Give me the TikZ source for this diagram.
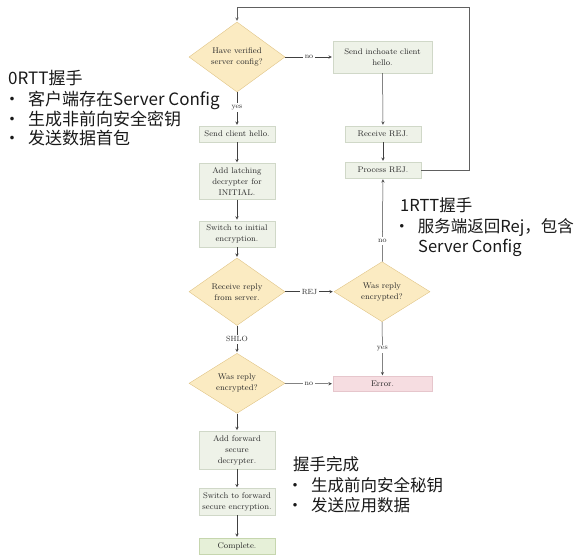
\documentclass[tikz,border=0pt]{standalone}
\usepackage{fontspec}
\newfontfamily\cjk{Noto Sans CJK SC}
\usetikzlibrary{shapes.geometric}

\definecolor{askfill}{HTML}{FBEBC2}
\definecolor{askline}{HTML}{E0C486}
\definecolor{boxfill}{HTML}{EEF2E8}
\definecolor{boxline}{HTML}{D0D8C8}
\definecolor{donefill}{HTML}{E6F0D8}
\definecolor{doneline}{HTML}{C6D6AE}
\definecolor{errfill}{HTML}{F6DDE1}
\definecolor{errline}{HTML}{E6C6CC}
\definecolor{ink}{HTML}{2B2B2B}

\newcommand{\bul}{\makebox[6pt][c]{\textbullet}\hspace{13pt}}

\tikzset{
    stepbox/.style={draw=boxline, fill=boxfill, minimum width=76pt, minimum height=16pt,
        inner xsep=2pt, inner ysep=4pt, align=center, text=ink,
        font=\fontsize{8.2}{11}\selectfont},
    ask/.style={diamond, draw=askline, fill=askfill, minimum width=96pt, minimum height=49pt,
        inner sep=0pt, align=center, text=ink, font=\fontsize{8.2}{11}\selectfont},
    flow/.style={->, >=stealth, draw=ink!90, line width=0.5pt, shorten >=1pt},
    tag/.style={fill=white, inner sep=2pt, text=ink, font=\fontsize{7.5}{9}\selectfont},
    note/.style={anchor=base west, inner sep=0pt, text=black!90, font=\cjk\fontsize{16.5}{20}\selectfont}
}

\begin{document}
\begin{tikzpicture}[x=1pt, y=-1pt]
    \useasboundingbox (0,0) rectangle (588,558);

    % Left column
    \node[ask] (have) at (237,57) {Have verified\\server config?};
    \node[stepbox] (sendhello) at (237,134) {Send client hello.};
    \node[stepbox] (latch) at (237,181.5) {Add latching\\decrypter for\\INITIAL.};
    \node[stepbox] (switchinit) at (237,234) {Switch to initial\\encryption.};
    \node[ask] (recv) at (237,291.7) {Receive reply\\from server.};
    \node[ask] (wasshlo) at (237,383.3) {Was reply\\encrypted?};
    \node[stepbox] (addfwd) at (237,450) {Add forward\\secure\\decrypter.};
    \node[stepbox] (switchfwd) at (237,501.7) {Switch to forward\\secure encryption.};
    \node[stepbox, draw=doneline, fill=donefill] (complete) at (237,546) {Complete.};

    % Right column
    \node[stepbox, minimum width=99pt, minimum height=32pt] (inchoate) at (382.5,57) {Send inchoate client\\hello.};
    \node[stepbox] (recrej) at (383,134) {Receive REJ.};
    \node[stepbox] (procrej) at (383,170) {Process REJ.};
    \node[ask] (wasrej) at (382,291.7) {Was reply\\encrypted?};
    \node[stepbox, minimum width=99pt, minimum height=15pt, draw=errline, fill=errfill] (error) at (382.5,384) {Error.};
    \coordinate (loop) at (469,7);

    % Connectors
    \draw[flow] (have) -- node[tag] {no} (inchoate);
    \draw[flow] (have) -- node[tag, pos=0.45] {yes} (sendhello);
    \draw[flow] (inchoate) -- (recrej);
    \draw[flow] (recrej) -- (procrej);
    \draw[flow, draw=ink!75] (procrej.east) -| (loop) -| (have.north);
    \draw[flow] (sendhello) -- (latch);
    \draw[flow] (latch) -- (switchinit);
    \draw[flow] (switchinit) -- (recv);
    \draw[flow] (recv) -- node[tag] {REJ} (wasrej);
    \draw[flow] (wasrej) -- node[tag, pos=0.25] {no} (procrej);
    \draw[flow] (wasrej) -- node[tag] {yes} (error);
    \draw[flow] (recv) -- node[tag] {SHLO} (wasshlo);
    \draw[flow] (wasshlo) -- node[tag] {no} (error);
    \draw[flow] (wasshlo) -- (addfwd);
    \draw[flow] (addfwd) -- (switchfwd);
    \draw[flow] (switchfwd) -- (complete);

    % Notes
    \node[note, font=\cjk\fontsize{17}{20}\selectfont] (zero) at (8,84) {0RTT握手};
    \node[note, font=\cjk\fontsize{17}{20}\selectfont] (zeroa) at (9,105) {\bul 客户端存在Server Config};
    \node[note, font=\cjk\fontsize{17}{20}\selectfont] (zerob) at (9,125) {\bul 生成非前向安全密钥};
    \node[note, font=\cjk\fontsize{17}{20}\selectfont] (zeroc) at (9,144) {\bul 发送数据首包};

    \node[note] (one) at (400,211.7) {1RTT握手};
    \node[note] (onea) at (398.7,232.7) {\bul 服务端返回Rej，包含};
    \node[note] (oneb) at (418,252) {Server Config};

    \node[note] (done) at (293,470) {握手完成};
    \node[note] (donea) at (292,491) {\bul 生成前向安全秘钥};
    \node[note] (doneb) at (292,511) {\bul 发送应用数据};
\end{tikzpicture}
\end{document}
